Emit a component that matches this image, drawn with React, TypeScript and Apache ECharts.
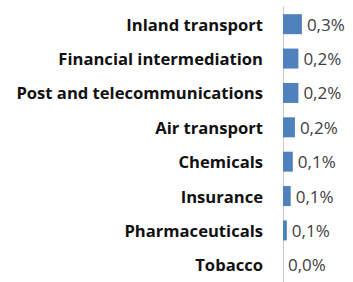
import React, { useEffect, useRef } from "react";
import * as echarts from "echarts";

const categories = [
  "Inland transport",
  "Financial intermediation",
  "Post and telecommunications",
  "Air transport",
  "Chemicals",
  "Insurance",
  "Pharmaceuticals",
  "Tobacco",
];
const values = [0.27, 0.22, 0.22, 0.17, 0.14, 0.11, 0.055, 0.0];

const fmt = (v: number) => v.toFixed(1).replace(".", ",") + "%";

export default function App() {
  const ref = useRef<HTMLDivElement>(null);
  useEffect(() => {
    if (!ref.current) return;
    const chart = echarts.init(ref.current, undefined, { renderer: "svg" });
    chart.setOption({
      animation: false,
      grid: { left: 283, top: 7, width: 87, height: 285, containLabel: false },
      xAxis: {
        type: "value",
        min: 0,
        max: 1,
        show: false,
      },
      yAxis: {
        type: "category",
        data: categories,
        inverse: true,
        axisLine: { show: true, lineStyle: { color: "#c8c8c8", width: 1 } },
        axisTick: { show: false },
        axisLabel: {
          margin: 20,
          color: "#111",
          fontFamily: "Open Sans",
          fontWeight: "bold",
          fontSize: 16.6,
        },
        splitLine: { show: false },
      },
      series: [
        {
          type: "bar",
          data: values,
          barWidth: 20,
          itemStyle: { color: "#4F81BD" },
          label: {
            show: true,
            position: "right",
            distance: 5,
            color: "#404040",
            fontFamily: "Open Sans",
            fontSize: 17,
            formatter: (p: any) => fmt(p.value),
          },
        },
      ],
    });
    return () => chart.dispose();
  }, []);
  return <div ref={ref} style={{ width: 353, height: 282, position: "absolute", left: 0, top: 0 }} />;
}
